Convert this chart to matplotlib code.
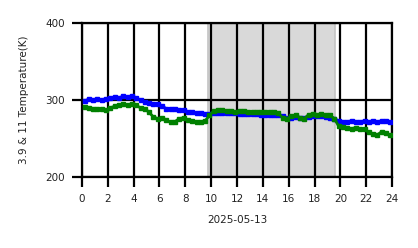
import numpy as np
import matplotlib
matplotlib.use('Agg')
import matplotlib.pyplot as plt

# tempo em horas (passos de 20 min)
hours = 0.2 + np.arange(72) / 3.0

temp_39 = [299, 301, 300, 301, 300, 302, 303, 304, 303, 305, 304, 305,
           303, 300, 298, 296, 295, 295, 292, 289, 289, 288, 287, 287,
           285, 284, 283, 283, 282, 282, 283, 283, 283, 283, 283, 283,
           282, 282, 282, 282, 282, 281, 281, 281, 281, 281, 279, 277,
           277, 278, 277, 277, 278, 279, 279, 279, 278, 277, 276, 273,
           272, 272, 273, 272, 272, 273, 272, 273, 272, 273, 273, 271]

temp_11 = [291, 290, 288, 289, 288, 287, 290, 292, 293, 295, 294, 295,
           293, 290, 289, 284, 278, 276, 277, 274, 271, 272, 276, 277,
           274, 273, 272, 272, 273, 280, 286, 287, 287, 286, 286, 285,
           286, 286, 285, 285, 285, 284, 285, 284, 285, 283, 277, 276,
           279, 281, 277, 276, 281, 282, 281, 282, 281, 280, 276, 266,
           265, 264, 263, 264, 262, 262, 258, 256, 255, 259, 257, 254]

day_start, day_end = 9.75, 19.6

fig = plt.figure(figsize=(4.18, 2.48), dpi=100)
ax = fig.add_axes([0.196, 0.286, 0.742, 0.621])

ax.axvspan(day_start, day_end, facecolor='#d9d9d9', edgecolor='#c4c4c4', lw=1.2, zorder=0)

ax.plot(hours, temp_39, color='blue', marker='s', ms=3.2, lw=2, zorder=3)
ax.plot(hours, temp_11, color='green', marker='s', ms=3.2, lw=2, zorder=4)

ax.set_xlim(0, 24)
ax.set_ylim(200, 400)
ax.set_xticks(np.arange(0, 25, 2))
ax.set_yticks([200, 300, 400])
ax.grid(True, color='black', lw=1.6)
for s in ax.spines.values():
    s.set_linewidth(1.6)
ax.tick_params(direction='out', length=7, width=1.6, labelsize=7.5, pad=5, labelcolor='#222222')
ax.set_xlabel('2025-05-13', fontsize=7.5, labelpad=8, color='#222222')
ax.set_ylabel('3.9 & 11 Temperature(K)', fontsize=7.5, labelpad=12, color='#222222')

fig.savefig('out.png', dpi=100)
